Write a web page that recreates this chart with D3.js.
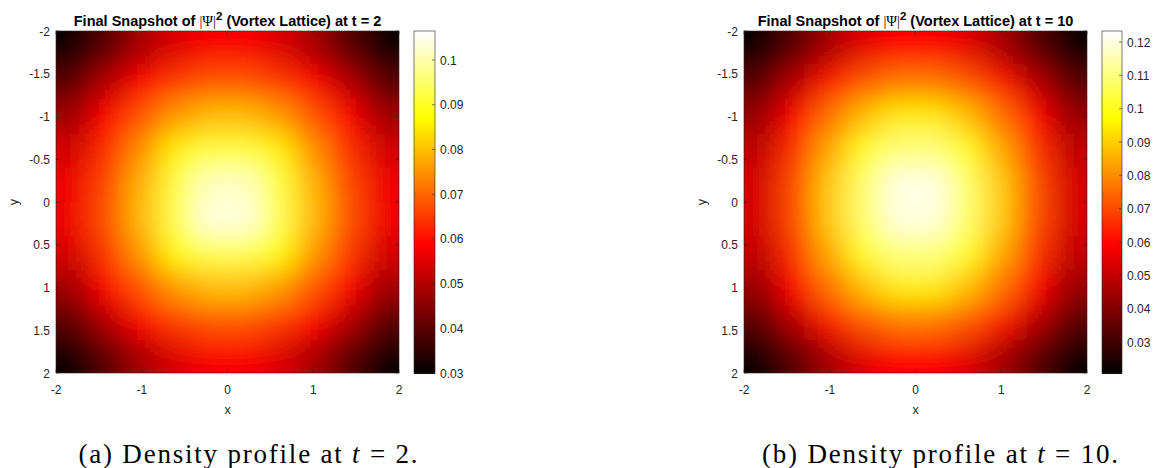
<!DOCTYPE html>
<html>
<head>
<meta charset="utf-8">
<script src="https://d3js.org/d3.v7.min.js"></script>
<style>
body { margin: 0; background: #fff; }
svg { display: block; font-family: 'Liberation Sans', Arial, sans-serif; }
</style>
</head>
<body>
<div id="fig"></div>
<script>

// grid cell centres (same for x and y)
var cellCenters = [-1.8, -1.4, -1.0, -0.6, -0.2, 0.2, 0.6, 1.0, 1.4, 1.8];
var cellSize = 0.4;

// |psi|^2, rows = y from -1.8 (top) to 1.8 (bottom)
var densityT2 = [
  [0.031, 0.040, 0.049, 0.055, 0.058, 0.058, 0.055, 0.049, 0.040, 0.031],
  [0.040, 0.050, 0.059, 0.065, 0.068, 0.068, 0.065, 0.059, 0.050, 0.040],
  [0.048, 0.059, 0.068, 0.076, 0.080, 0.080, 0.076, 0.068, 0.059, 0.048],
  [0.054, 0.064, 0.075, 0.086, 0.092, 0.092, 0.086, 0.075, 0.064, 0.054],
  [0.057, 0.067, 0.079, 0.092, 0.102, 0.102, 0.092, 0.079, 0.067, 0.057],
  [0.057, 0.068, 0.080, 0.093, 0.104, 0.104, 0.093, 0.080, 0.068, 0.057],
  [0.054, 0.065, 0.076, 0.087, 0.093, 0.093, 0.087, 0.076, 0.065, 0.054],
  [0.048, 0.059, 0.068, 0.076, 0.080, 0.080, 0.076, 0.068, 0.059, 0.048],
  [0.040, 0.050, 0.059, 0.065, 0.068, 0.068, 0.065, 0.059, 0.050, 0.040],
  [0.031, 0.040, 0.049, 0.055, 0.058, 0.058, 0.055, 0.049, 0.040, 0.031]
];

var densityT10 = [
  [0.022, 0.034, 0.046, 0.055, 0.059, 0.059, 0.055, 0.046, 0.034, 0.022],
  [0.034, 0.048, 0.062, 0.072, 0.077, 0.077, 0.072, 0.062, 0.048, 0.034],
  [0.044, 0.060, 0.076, 0.088, 0.095, 0.095, 0.088, 0.076, 0.060, 0.044],
  [0.050, 0.067, 0.085, 0.101, 0.110, 0.110, 0.101, 0.085, 0.067, 0.050],
  [0.053, 0.071, 0.090, 0.108, 0.121, 0.121, 0.108, 0.090, 0.071, 0.053],
  [0.053, 0.071, 0.090, 0.108, 0.120, 0.120, 0.108, 0.090, 0.071, 0.053],
  [0.050, 0.067, 0.085, 0.101, 0.110, 0.110, 0.101, 0.085, 0.067, 0.050],
  [0.044, 0.060, 0.076, 0.088, 0.095, 0.095, 0.088, 0.076, 0.060, 0.044],
  [0.034, 0.048, 0.062, 0.072, 0.077, 0.077, 0.072, 0.062, 0.048, 0.034],
  [0.022, 0.034, 0.046, 0.055, 0.059, 0.059, 0.055, 0.046, 0.034, 0.022]
];

var xTicks = [-2, -1, 0, 1, 2];
var yTicks = [-2, -1.5, -1, -0.5, 0, 0.5, 1, 1.5, 2];
var cbTicksT2 = [0.03, 0.04, 0.05, 0.06, 0.07, 0.08, 0.09, 0.1];
var cbTicksT10 = [0.03, 0.04, 0.05, 0.06, 0.07, 0.08, 0.09, 0.1, 0.11, 0.12];
var cbRangeT2 = [0.03, 0.1065];
var cbRangeT10 = [0.0207, 0.1233];
var times = [2, 10];
var captionTags = ["(a)", "(b)"];

var W = 1157, H = 468;
var ink = "#262626";

var svg = d3.select("#fig").append("svg").attr("width", W).attr("height", H);
var defs = svg.append("defs");

// MATLAB "hot": black -> red -> yellow -> white
function hotScale(range) {
  var lo = range[0], span = range[1] - range[0];
  return d3.scaleLinear()
    .domain([lo, lo + 0.375 * span, lo + 0.75 * span, range[1]])
    .range(["#000000", "#ff0000", "#ffff00", "#ffffff"])
    .clamp(true);
}

var panels = [
  { left: 56, right: 399, top: 31, bottom: 373, cbLeft: 414, cbRight: 435, capX: 248, capLen: 339,
    data: densityT2, cbTicks: cbTicksT2, cbRange: cbRangeT2 },
  { left: 744, right: 1087, top: 31, bottom: 373, cbLeft: 1102, cbRight: 1122, capX: 940, capLen: 356,
    data: densityT10, cbTicks: cbTicksT10, cbRange: cbRangeT10 }
];

panels.forEach(function(p, k) {
  var x = d3.scaleLinear().domain([-2, 2]).range([p.left, p.right]);
  var y = d3.scaleLinear().domain([-2, 2]).range([p.top, p.bottom]);
  var color = hotScale(p.cbRange);
  var pad = 50;

  // smoothing + clip
  var f = defs.append("filter").attr("id", "smooth" + k)
    .attr("filterUnits", "userSpaceOnUse")
    .attr("x", p.left - pad).attr("y", p.top - pad)
    .attr("width", p.right - p.left + 2 * pad).attr("height", p.bottom - p.top + 2 * pad);
  f.append("feGaussianBlur").attr("stdDeviation", 14);
  defs.append("clipPath").attr("id", "clip" + k)
    .append("rect").attr("x", p.left).attr("y", p.top)
    .attr("width", p.right - p.left).attr("height", p.bottom - p.top);

  var cells = [];
  p.data.forEach(function(row, i) {
    row.forEach(function(v, j) {
      cells.push({ cx: cellCenters[j], cy: cellCenters[i], v: v, i: i, j: j });
    });
  });
  var n = cellCenters.length;

  var g = svg.append("g").attr("clip-path", "url(#clip" + k + ")")
    .append("g").attr("filter", "url(#smooth" + k + ")");
  g.selectAll("rect").data(cells).enter().append("rect")
    .attr("shape-rendering", "crispEdges")
    .attr("x", function(d) { return x(d.cx - cellSize / 2) - (d.j == 0 ? pad : 0); })
    .attr("y", function(d) { return y(d.cy - cellSize / 2) - (d.i == 0 ? pad : 0); })
    .attr("width", function(d) {
      return x(cellSize) - x(0) + 1 + (d.j == 0 || d.j == n - 1 ? pad : 0);
    })
    .attr("height", function(d) {
      return y(cellSize) - y(0) + 1 + (d.i == 0 || d.i == n - 1 ? pad : 0);
    })
    .attr("fill", function(d) { return color(d.v); });

  // box
  svg.append("rect").attr("x", p.left).attr("y", p.top)
    .attr("width", p.right - p.left).attr("height", p.bottom - p.top)
    .attr("fill", "none").attr("stroke", ink).attr("stroke-width", 0.6);

  var tl = 3.4;
  var ax = svg.append("g").attr("stroke", ink).attr("stroke-width", 0.6);
  xTicks.forEach(function(t) {
    ax.append("line").attr("x1", x(t)).attr("x2", x(t)).attr("y1", p.bottom).attr("y2", p.bottom - tl);
    ax.append("line").attr("x1", x(t)).attr("x2", x(t)).attr("y1", p.top).attr("y2", p.top + tl);
  });
  yTicks.forEach(function(t) {
    ax.append("line").attr("y1", y(t)).attr("y2", y(t)).attr("x1", p.left).attr("x2", p.left + tl);
    ax.append("line").attr("y1", y(t)).attr("y2", y(t)).attr("x1", p.right).attr("x2", p.right - tl);
  });

  svg.append("g").selectAll("text").data(xTicks).enter().append("text")
    .attr("x", function(d) { return x(d); }).attr("y", p.bottom + 21)
    .attr("text-anchor", "middle").attr("font-size", 12).attr("fill", ink)
    .text(function(d) { return String(d); });
  svg.append("g").selectAll("text").data(yTicks).enter().append("text")
    .attr("x", p.left - 6).attr("y", function(d) { return y(d) + 4.5; })
    .attr("text-anchor", "end").attr("font-size", 12).attr("fill", ink)
    .text(function(d) { return String(d); });

  var midX = (p.left + p.right) / 2, midY = (p.top + p.bottom) / 2;
  svg.append("text").attr("x", midX).attr("y", p.bottom + 41)
    .attr("text-anchor", "middle").attr("font-size", 12.5).attr("fill", ink).text("x");
  svg.append("text").attr("transform", "translate(" + (p.left - 38) + "," + midY + ") rotate(-90)")
    .attr("text-anchor", "middle").attr("font-size", 12.5).attr("fill", ink).text("y");

  // title
  var title = svg.append("text").attr("x", midX).attr("y", 26)
    .attr("text-anchor", "middle").attr("font-size", 14.5).attr("font-weight", "bold").attr("fill", "#000");
  title.append("tspan").text("Final Snapshot of ");
  title.append("tspan").attr("font-family", "'Liberation Serif', serif").attr("font-weight", "normal").text("|\u03A8|");
  title.append("tspan").attr("dy", -6).attr("font-size", 11.5).text("2");
  title.append("tspan").attr("dy", 6).text(" (Vortex Lattice) at t = " + times[k]);

  // colorbar
  var cy = d3.scaleLinear().domain(p.cbRange).range([p.bottom, p.top]);
  var steps = d3.range(256).map(function(i) {
    return p.cbRange[0] + (i + 0.5) / 256 * (p.cbRange[1] - p.cbRange[0]);
  });
  var dv = (p.cbRange[1] - p.cbRange[0]) / 256;
  svg.append("g").attr("shape-rendering", "crispEdges").selectAll("rect").data(steps).enter().append("rect")
    .attr("x", p.cbLeft).attr("width", p.cbRight - p.cbLeft)
    .attr("y", function(d) { return cy(d + dv / 2); })
    .attr("height", function(d) { return cy(d - dv / 2) - cy(d + dv / 2) + 1; })
    .attr("fill", function(d) { return color(d); });
  svg.append("rect").attr("x", p.cbLeft).attr("y", p.top)
    .attr("width", p.cbRight - p.cbLeft).attr("height", p.bottom - p.top)
    .attr("fill", "none").attr("stroke", ink).attr("stroke-width", 0.6);
  var cb = svg.append("g");
  cb.selectAll("line").data(p.cbTicks).enter().append("line")
    .attr("x1", p.cbRight).attr("x2", p.cbRight - 3)
    .attr("y1", function(d) { return cy(d); }).attr("y2", function(d) { return cy(d); })
    .attr("stroke", ink).attr("stroke-width", 0.6);
  cb.selectAll("text").data(p.cbTicks).enter().append("text")
    .attr("x", p.cbRight + 5).attr("y", function(d) { return cy(d) + 4.5; })
    .attr("font-size", 12).attr("fill", ink)
    .text(function(d) { return String(d); });

  // caption
  var cap = svg.append("text").attr("x", p.capX).attr("y", 463)
    .attr("text-anchor", "middle").attr("font-family", "'Liberation Serif', serif")
    .attr("font-size", 27).attr("fill", "#000")
    .attr("textLength", p.capLen).attr("lengthAdjust", "spacing");
  cap.append("tspan").text(captionTags[k] + " Density profile at ");
  cap.append("tspan").attr("font-style", "italic").text("t");
  cap.append("tspan").text(" = " + times[k] + ".");
});

</script>
</body>
</html>
